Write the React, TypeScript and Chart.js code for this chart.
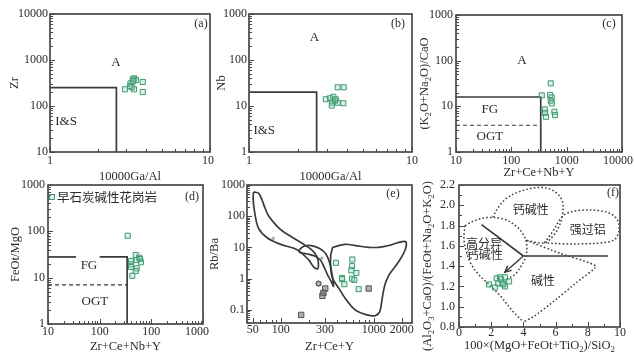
import React, { useEffect, useRef } from 'react';
import { Chart, registerables } from 'chart.js';
Chart.register(...registerables);

const SERIF = "'Liberation Serif','Times New Roman','DejaVu Serif',serif";
const CJK = "'Noto Sans CJK SC','Noto Sans',sans-serif";
const INK = '#2b2b2b';
const FRAME = '#484848';
const LINE = '#3a3a3a';
const GREEN = '#3f9a72';
const GREEN_FILL = 'rgba(140,205,170,0.30)';
const GRAY = '#555555';
const GRAY_FILL = 'rgba(110,110,110,0.55)';

// ---------------- (a) Zr vs 10000Ga/Al ----------------
const aGaAl = [2.94, 3.35, 3.19, 3.29, 3.36, 3.45, 3.31, 3.80, 3.80, 3.16, 3.24];
const aZr = [231, 231, 311, 380, 400, 367, 344, 333, 201, 272, 255];
const aBoundGaAl = [1, 2.6, 2.6];
const aBoundZr = [250, 250, 10];
const aXTicks = [1, 10];
const aYTicks = [10, 100, 1000, 10000];

// ---------------- (b) Nb vs 10000Ga/Al ----------------
const bGaAl = [3.50, 3.81, 2.96, 3.14, 3.29, 3.37, 3.24, 3.50, 3.79, 3.40, 3.22];
const bNb = [25.5, 25.5, 14.0, 14.7, 15.9, 13.0, 11.8, 11.8, 11.5, 14.0, 10.2];
const bBoundGaAl = [1, 2.6, 2.6];
const bBoundNb = [20, 20, 1];
const bXTicks = [1, 10];
const bYTicks = [1, 10, 100, 1000];

// ---------------- (c) (K2O+Na2O)/CaO vs Zr+Ce+Nb+Y ----------------
const cSum = [515, 355, 501, 538, 515, 538, 402, 407, 424, 600, 617];
const cRatio = [31.9, 17.4, 17.7, 15.7, 13.3, 11.6, 8.6, 7.2, 5.9, 7.6, 6.45];
const cBoundSum = [10, 340, 340];
const cBoundRatio = [16, 16, 1];
const cDashSum = [10, 340];
const cDashRatio = [3.85, 3.85];
const cXTicks = [10, 100, 1000, 10000];
const cYTicks = [1, 10, 100, 1000];

// ---------------- (d) FeOt/MgO vs Zr+Ce+Nb+Y ----------------
const dSum = [349, 498, 577, 604, 404, 521, 631, 404, 404, 521, 498, 428];
const dRatio = [80.5, 30.8, 27, 25.3, 22.9, 24, 21.5, 19.4, 17, 15.9, 13.9, 11.0];
const dFGLeftSum = [10, 35];
const dFGLeftRatio = [28, 28];
const dFGRightSum = [100, 340, 340];
const dFGRightRatio = [28, 28, 1];
const dDashSum = [10, 340];
const dDashRatio = [7, 7];
const dXTicks = [10, 100, 1000, 10000];
const dXTickText = ['10', '100', '100', '1000'];
const dYTicks = [1, 10, 100, 1000];

// ---------------- (e) Rb/Ba vs Zr+Ce+Y ----------------
const eSum = [393, 589, 585, 574, 650, 456, 456, 585, 619, 483, 689];
const eRbBa = [3.22, 4.13, 2.53, 1.85, 1.52, 1.05, 0.957, 1.0, 0.91, 0.664, 0.461];
const eOtherSqSum = [883, 301, 288, 281, 166];
const eOtherSqRbBa = [0.482, 0.482, 0.352, 0.282, 0.069];
const eOtherCirSum = [255];
const eOtherCirRbBa = [0.694];
const eDotSum = [83, 277];
const eDotRbBa = [19.6, 4.54];
const eBandSum = [51, 58, 63, 67, 74, 90, 105, 130, 175, 220, 245, 254, 250, 228, 200, 150, 100, 72, 58, 53, 50.5, 51];
const eBandRbBa = [600, 540, 330, 200, 103, 50, 33, 22, 12.9, 7.9, 5.0, 3.3, 2.1, 2.3, 4.0, 8.5, 12.5, 20, 40, 110, 350, 600];
const eMidSum = [158, 178, 212, 262, 305, 335, 355, 370, 350, 318, 292, 268, 232, 190, 160, 158];
const eMidRbBa = [8.5, 10.9, 11.5, 9.3, 6.3, 3.3, 1.5, 0.57, 0.8, 1.35, 2.4, 3.9, 5.3, 6.3, 6.9, 8.5];
const eBigSum = [362, 494, 634, 883, 1132, 1452, 1862, 2198, 2239, 2109, 1790, 1452, 1315, 1233, 1161, 1042, 849, 634, 495, 419, 362, 345, 345, 362];
const eBigRbBa = [10.1, 12.6, 11.5, 10.1, 10.1, 11.5, 14.6, 15.4, 11.5, 6.69, 2.99, 1.28, 0.617, 0.232, 0.0877, 0.0655, 0.0689, 0.0993, 0.232, 0.507, 1.0, 2.1, 5.5, 10.1];
const eXTicks = [50, 100, 300, 1000, 2000];
const eYTicks = [0.1, 1, 10, 100, 1000];
const eYTickText = ['0.1', '1', '10', '100', '1000'];

// ---------------- (f) Sylvester diagram ----------------
const fX = [1.86, 2.24, 2.34, 2.55, 2.86, 3.11, 2.69, 2.86, 2.44, 2.61, 2.75];
const fY = [1.22, 1.19, 1.28, 1.29, 1.29, 1.25, 1.23, 1.20, 1.23, 1.27, 1.22];
const fCalcX = [2.09, 2.44, 2.96, 3.69, 4.62, 5.45, 6.07, 6.42, 6.44, 6.21, 5.86, 5.30, 4.16];
const fCalcY = [1.88, 1.98, 2.07, 2.13, 2.17, 2.17, 2.12, 2.04, 1.92, 1.79, 1.70, 1.63, 1.655];
const fHighX = [0.37, 0.99, 1.82, 2.86, 3.58, 4.00, 4.20, 4.16, 3.89, 3.48, 2.96];
const fHighY = [1.80, 1.85, 1.88, 1.86, 1.79, 1.71, 1.62, 1.50, 1.41, 1.32, 1.27];
const fOuterX = [0.37, 0.31, 0.48, 0.75, 1.20, 1.72, 2.55, 3.37, 4.0];
const fOuterY = [1.80, 1.66, 1.53, 1.42, 1.32, 1.24, 1.11, 0.95, 0.85];
const fAlkX = [4.16, 6.3, 8.5, 7.31, 5.86, 4.62, 4.0];
const fAlkY = [1.655, 1.525, 1.40, 1.24, 1.05, 0.90, 0.85];
const fPeraX = [5.30, 5.86, 6.27, 6.69, 7.52, 8.55, 9.38, 9.86, 9.94, 9.65, 8.86, 7.62, 6.38, 5.30];
const fPeraY = [1.63, 1.75, 1.86, 1.92, 1.95, 1.95, 1.92, 1.85, 1.75, 1.66, 1.63, 1.62, 1.62, 1.63];
const fLine1X = [1.4, 4.0];
const fLine1Y = [1.81, 1.5];
const fLine2X = [4.0, 9.25];
const fLine2Y = [1.5, 1.5];
const fArrowX = [4.0, 2.85];
const fArrowY = [1.5, 1.34];
const fXTicks = [0, 2, 4, 6, 8, 10];
const fYTicks = [0.8, 1.0, 1.2, 1.4, 1.6, 1.8, 2.0, 2.2];

const LEGEND_LABEL = '早石炭碱性花岗岩';

// ---------------- helpers ----------------
const pts = (xs: number[], ys: number[]) => xs.map((x, i) => ({ x, y: ys[i] }));

function logMinors(min: number, max: number, majors: number[]) {
  const out: number[] = [];
  for (let d = Math.floor(Math.log10(min)); d <= Math.ceil(Math.log10(max)); d++) {
    for (let k = 1; k <= 9; k++) {
      const v = +(k * Math.pow(10, d)).toPrecision(6);
      if (v >= min && v <= max && !majors.some((m) => Math.abs(m - v) / v < 1e-6)) out.push(v);
    }
  }
  return out;
}

function samples(xs: number[], ys: number[]) {
  return {
    data: pts(xs, ys), showLine: false, pointStyle: 'rect', pointRadius: 3.6,
    pointBorderWidth: 1, borderColor: GREEN, backgroundColor: GREEN_FILL, order: 0,
  };
}
function line(xs: number[], ys: number[], extra: any = {}) {
  return {
    data: pts(xs, ys), showLine: true, pointRadius: 0, borderColor: LINE,
    borderWidth: 1.7, fill: false, order: 1, ...extra,
  };
}
const dotted = { borderDash: [1.6, 2.2], borderWidth: 1.5, borderColor: '#3c3c3c', tension: 0.35 };

function parseRich(s: string) {
  const segs: { t: string; sub: boolean }[] = [];
  let cur = '';
  for (let i = 0; i < s.length; i++) {
    if (s[i] === '_' && i + 1 < s.length) {
      if (cur) segs.push({ t: cur, sub: false });
      cur = '';
      segs.push({ t: s[i + 1], sub: true });
      i++;
    } else cur += s[i];
  }
  if (cur) segs.push({ t: cur, sub: false });
  return segs;
}
function drawRich(ctx: CanvasRenderingContext2D, s: string, cx: number, cy: number, size: number, rot = 0) {
  const segs = parseRich(s);
  ctx.save();
  ctx.translate(cx, cy);
  if (rot) ctx.rotate(rot);
  ctx.textBaseline = 'middle';
  ctx.textAlign = 'left';
  const sub = size * 0.7;
  let w = 0;
  for (const g of segs) { ctx.font = `${g.sub ? sub : size}px ${SERIF}`; w += ctx.measureText(g.t).width; }
  let x = -w / 2;
  for (const g of segs) {
    ctx.font = `${g.sub ? sub : size}px ${SERIF}`;
    ctx.fillText(g.t, x, g.sub ? size * 0.3 : 0);
    x += ctx.measureText(g.t).width;
  }
  ctx.restore();
}

type Txt = { x: number; y: number; t: string; cjk?: boolean };
type Spec = {
  id: string; L: number; T: number; W: number; H: number;
  left: number; top: number; right: number; bottom: number;
  xLog: boolean; yLog: boolean; xMin: number; xMax: number; yMin: number; yMax: number;
  xTicks: number[]; xTickText?: string[]; yTicks: number[]; yTickText?: string[];
  xMinor: number[]; yMinor: number[]; yFixed?: number;
  xTitle: string; yTitle: string;
  xLabelDy: number; yLabelDx: number; xTitleDy: number; yTitleDx: number; yTitleDy?: number;
  tag: string; tagDx: number; tagDy: number;
  texts: Txt[]; datasets: any[]; legend?: boolean; arrow?: { x: number[]; y: number[] };
};

function decoPlugin(spec: Spec) {
  return {
    id: 'deco',
    afterDraw(chart: any) {
      const { ctx, chartArea: a, scales } = chart;
      const xs = scales.x, ys = scales.y;
      ctx.save();
      // inward ticks (bottom and left)
      ctx.strokeStyle = FRAME;
      ctx.lineWidth = 1;
      const xt = (v: number, len: number) => {
        const p = Math.round(xs.getPixelForValue(v)) + 0.5;
        ctx.beginPath(); ctx.moveTo(p, a.bottom); ctx.lineTo(p, a.bottom - len); ctx.stroke();
      };
      const yt = (v: number, len: number) => {
        const p = Math.round(ys.getPixelForValue(v)) + 0.5;
        ctx.beginPath(); ctx.moveTo(a.left, p); ctx.lineTo(a.left + len, p); ctx.stroke();
      };
      spec.xMinor.forEach((v) => xt(v, 3));
      spec.xTicks.forEach((v) => xt(v, 5));
      spec.yMinor.forEach((v) => yt(v, 3));
      spec.yTicks.forEach((v) => yt(v, 5));
      // frame
      ctx.lineWidth = 1.7;
      ctx.strokeRect(a.left, a.top, a.right - a.left, a.bottom - a.top);
      // arrow head
      if (spec.arrow) {
        const n = spec.arrow.x.length;
        const x1 = xs.getPixelForValue(spec.arrow.x[n - 2]), y1 = ys.getPixelForValue(spec.arrow.y[n - 2]);
        const x2 = xs.getPixelForValue(spec.arrow.x[n - 1]), y2 = ys.getPixelForValue(spec.arrow.y[n - 1]);
        const ang = Math.atan2(y2 - y1, x2 - x1);
        ctx.strokeStyle = LINE; ctx.lineWidth = 1.5;
        ctx.beginPath();
        ctx.moveTo(x2 - 7 * Math.cos(ang - 0.45), y2 - 7 * Math.sin(ang - 0.45));
        ctx.lineTo(x2, y2);
        ctx.lineTo(x2 - 7 * Math.cos(ang + 0.45), y2 - 7 * Math.sin(ang + 0.45));
        ctx.stroke();
      }
      // tick labels
      ctx.fillStyle = INK;
      ctx.font = `12px ${SERIF}`;
      ctx.textBaseline = 'middle';
      spec.xTicks.forEach((v, i) => {
        const t = spec.xTickText ? spec.xTickText[i] : String(v);
        const w = ctx.measureText(t).width;
        let cx = xs.getPixelForValue(v);
        cx = Math.min(cx, chart.width - 1 - w / 2);
        ctx.textAlign = 'center';
        ctx.fillText(t, cx, a.bottom + spec.xLabelDy);
      });
      spec.yTicks.forEach((v, i) => {
        const t = spec.yTickText ? spec.yTickText[i] : (spec.yFixed !== undefined ? v.toFixed(spec.yFixed) : String(v));
        ctx.textAlign = 'right';
        ctx.fillText(t, a.left - spec.yLabelDx, ys.getPixelForValue(v));
      });
      // axis titles
      drawRich(ctx, spec.xTitle, (a.left + a.right) / 2, a.bottom + spec.xTitleDy, 12.5);
      drawRich(ctx, spec.yTitle, a.left - spec.yTitleDx, (a.top + a.bottom) / 2 + (spec.yTitleDy || 0), 12.5, -Math.PI / 2);
      // panel tag
      ctx.font = `12px ${SERIF}`;
      ctx.textAlign = 'center';
      ctx.fillText(spec.tag, a.right - spec.tagDx, a.top + spec.tagDy);
      // field labels
      spec.texts.forEach((tx) => {
        ctx.font = tx.cjk ? `12px ${CJK}` : `13px ${SERIF}`;
        ctx.textAlign = 'center';
        ctx.fillText(tx.t, xs.getPixelForValue(tx.x), ys.getPixelForValue(tx.y));
      });
      // legend
      if (spec.legend) {
        const lx = a.left + 4, ly = a.top + 12;
        ctx.fillStyle = GREEN_FILL; ctx.fillRect(lx - 2.5, ly - 2.5, 5, 5);
        ctx.strokeStyle = GREEN; ctx.lineWidth = 1; ctx.strokeRect(lx - 2.5, ly - 2.5, 5, 5);
        ctx.fillStyle = INK; ctx.font = `12.5px ${CJK}`; ctx.textAlign = 'left';
        ctx.fillText(LEGEND_LABEL, lx + 5, ly);
      }
      ctx.restore();
    },
  };
}

function buildConfig(spec: Spec): any {
  const axis = (isX: boolean) => ({
    type: (isX ? spec.xLog : spec.yLog) ? 'logarithmic' : 'linear',
    min: isX ? spec.xMin : spec.yMin,
    max: isX ? spec.xMax : spec.yMax,
    position: isX ? 'bottom' : 'left',
    ticks: { display: false },
    grid: { display: false },
    border: { display: false },
    title: { display: false },
    afterFit: (s: any) => {
      if (isX) { s.height = spec.T + spec.H - spec.bottom; s.paddingLeft = 0; s.paddingRight = 0; }
      else { s.width = spec.left - spec.L; s.paddingTop = 0; s.paddingBottom = 0; }
    },
  });
  return {
    type: 'scatter',
    data: { datasets: spec.datasets },
    options: {
      responsive: false, animation: false, maintainAspectRatio: false,
      layout: { padding: { top: spec.top - spec.T, right: spec.L + spec.W - spec.right, left: 0, bottom: 0 } },
      plugins: { legend: { display: false }, tooltip: { enabled: false } },
      scales: { x: axis(true), y: axis(false) },
    },
    plugins: [decoPlugin(spec)],
  };
}

// ---------------- panel specs ----------------
const specA: Spec = {
  id: 'a', L: 0, T: 0, W: 215, H: 185, left: 50, top: 14, right: 210, bottom: 152,
  xLog: true, yLog: true, xMin: 1, xMax: 10, yMin: 10, yMax: 10000,
  xTicks: aXTicks, yTicks: aYTicks, xMinor: logMinors(1, 10, aXTicks), yMinor: logMinors(10, 10000, aYTicks),
  xTitle: '10000Ga/Al', yTitle: 'Zr', xLabelDy: 9, yLabelDx: 2, xTitleDy: 25, yTitleDx: 35,
  tag: '(a)', tagDx: 9, tagDy: 10,
  texts: [{ x: 2.58, y: 860, t: 'A' }, { x: 1.26, y: 47, t: 'I&S' }],
  datasets: [line(aBoundGaAl, aBoundZr), samples(aGaAl, aZr)],
};
const specB: Spec = {
  id: 'b', L: 215, T: 0, W: 210, H: 185, left: 249, top: 14, right: 412, bottom: 152,
  xLog: true, yLog: true, xMin: 1, xMax: 10, yMin: 1, yMax: 1000,
  xTicks: bXTicks, yTicks: bYTicks, xMinor: logMinors(1, 10, bXTicks), yMinor: logMinors(1, 1000, bYTicks),
  xTitle: '10000Ga/Al', yTitle: 'Nb', xLabelDy: 9, yLabelDx: 2, xTitleDy: 25, yTitleDx: 27,
  tag: '(b)', tagDx: 14, tagDy: 10,
  texts: [{ x: 2.52, y: 311, t: 'A' }, { x: 1.24, y: 2.86, t: 'I&S' }],
  datasets: [line(bBoundGaAl, bBoundNb), samples(bGaAl, bNb)],
};
const specC: Spec = {
  id: 'c', L: 420, T: 0, W: 214, H: 185, left: 456, top: 15, right: 622, bottom: 152,
  xLog: true, yLog: true, xMin: 10, xMax: 10000, yMin: 1, yMax: 1000,
  xTicks: cXTicks, yTicks: cYTicks, xMinor: logMinors(10, 10000, cXTicks), yMinor: logMinors(1, 1000, cYTicks),
  xTitle: 'Zr+Ce+Nb+Y', yTitle: '(K_2O+Na_2O)/CaO', xLabelDy: 9, yLabelDx: 3, xTitleDy: 21, yTitleDx: 31,
  tag: '(c)', tagDx: 13, tagDy: 9,
  texts: [{ x: 156, y: 98, t: 'A' }, { x: 41, y: 8.3, t: 'FG' }, { x: 41, y: 2.13, t: 'OGT' }],
  datasets: [line(cBoundSum, cBoundRatio), line(cDashSum, cDashRatio, { borderDash: [4, 3], borderWidth: 1.2 }), samples(cSum, cRatio)],
};
const specD: Spec = {
  id: 'd', L: 0, T: 180, W: 210, H: 181, left: 48, top: 185, right: 203, bottom: 324,
  xLog: true, yLog: true, xMin: 10, xMax: 10000, yMin: 1, yMax: 1000,
  xTicks: dXTicks, xTickText: dXTickText, yTicks: dYTicks,
  xMinor: logMinors(10, 10000, dXTicks), yMinor: logMinors(1, 1000, dYTicks),
  xTitle: 'Zr+Ce+Nb+Y', yTitle: 'FeOt/MgO', xLabelDy: 8, yLabelDx: 3, xTitleDy: 23, yTitleDx: 32,
  tag: '(d)', tagDx: 11, tagDy: 12,
  texts: [{ x: 62, y: 17.9, t: 'FG' }, { x: 81, y: 2.98, t: 'OGT' }],
  legend: true,
  datasets: [
    line(dFGLeftSum, dFGLeftRatio), line(dFGRightSum, dFGRightRatio),
    line(dDashSum, dDashRatio, { borderDash: [4, 3], borderWidth: 1.2 }), samples(dSum, dRatio),
  ],
};
const specE: Spec = {
  id: 'e', L: 210, T: 180, W: 210, H: 181, left: 247, top: 184, right: 412, bottom: 323,
  xLog: true, yLog: true, xMin: 43.4, xMax: 2580, yMin: 0.038, yMax: 1000,
  xTicks: eXTicks, yTicks: eYTicks, yTickText: eYTickText,
  xMinor: logMinors(43.4, 2580, eXTicks), yMinor: logMinors(0.038, 1000, eYTicks),
  xTitle: 'Zr+Ce+Y', yTitle: 'Rb/Ba', xLabelDy: 7, yLabelDx: 2, xTitleDy: 24, yTitleDx: 32,
  tag: '(e)', tagDx: 19, tagDy: 9,
  texts: [],
  datasets: [
    line(eBandSum, eBandRbBa, { tension: 0.35 }),
    line(eMidSum, eMidRbBa, { tension: 0.35 }),
    line(eBigSum, eBigRbBa, { tension: 0.35 }),
    { data: pts(eOtherSqSum, eOtherSqRbBa), showLine: false, pointStyle: 'rect', pointRadius: 3.8, pointBorderWidth: 1, borderColor: GRAY, backgroundColor: GRAY_FILL, order: 0 },
    { data: pts(eOtherCirSum, eOtherCirRbBa), showLine: false, pointStyle: 'circle', pointRadius: 2.6, pointBorderWidth: 1, borderColor: '#333', backgroundColor: GRAY_FILL, order: 0 },
    { data: pts(eDotSum, eDotRbBa), showLine: false, pointStyle: 'circle', pointRadius: 1.2, pointBorderWidth: 0.8, borderColor: '#999', backgroundColor: '#bbb', order: 0 },
    samples(eSum, eRbBa),
  ],
};
const specF: Spec = {
  id: 'f', L: 420, T: 180, W: 214, H: 181, left: 459, top: 183, right: 620, bottom: 327,
  xLog: false, yLog: false, xMin: 0, xMax: 10, yMin: 0.8, yMax: 2.2,
  xTicks: fXTicks, yTicks: fYTicks, yFixed: 1,
  xMinor: [1, 3, 5, 7, 9], yMinor: [0.9, 1.1, 1.3, 1.5, 1.7, 1.9, 2.1],
  xTitle: '100×(MgO+FeOt+TiO_2)/SiO_2', yTitle: '(Al_2O_3+CaO)/(FeOt+Na_2O+K_2O)',
  xLabelDy: 5.5, yLabelDx: 4, xTitleDy: 19, yTitleDx: 31, yTitleDy: 10,
  tag: '(f)', tagDx: 7, tagDy: 8,
  texts: [
    { x: 4.45, y: 1.955, t: '钙碱性', cjk: true }, { x: 8.0, y: 1.76, t: '强过铝', cjk: true },
    { x: 1.56, y: 1.625, t: '高分异', cjk: true }, { x: 1.6, y: 1.515, t: '钙碱性', cjk: true },
    { x: 5.22, y: 1.255, t: '碱性', cjk: true },
  ],
  arrow: { x: fArrowX, y: fArrowY },
  datasets: [
    line(fCalcX, fCalcY, dotted), line(fHighX, fHighY, dotted), line(fOuterX, fOuterY, dotted),
    line(fAlkX, fAlkY, { ...dotted, tension: 0.15 }), line(fPeraX, fPeraY, dotted),
    line(fLine1X, fLine1Y), line(fLine2X, fLine2Y), line(fArrowX, fArrowY, { borderWidth: 1.4 }),
    samples(fX, fY),
  ],
};
const SPECS = [specA, specB, specC, specD, specE, specF];

function Panel({ spec }: { spec: Spec }) {
  const ref = useRef<HTMLCanvasElement>(null);
  useEffect(() => {
    const chart = new Chart(ref.current as HTMLCanvasElement, buildConfig(spec));
    return () => chart.destroy();
  }, [spec]);
  return (
    <canvas ref={ref} width={spec.W} height={spec.H}
      style={{ position: 'absolute', left: spec.L, top: spec.T, width: spec.W, height: spec.H }} />
  );
}

export default function App() {
  return (
    <div style={{ position: 'fixed', left: 0, top: 0, width: 634, height: 361, background: '#fff', overflow: 'hidden' }}>
      {SPECS.map((s) => <Panel key={s.id} spec={s} />)}
    </div>
  );
}
